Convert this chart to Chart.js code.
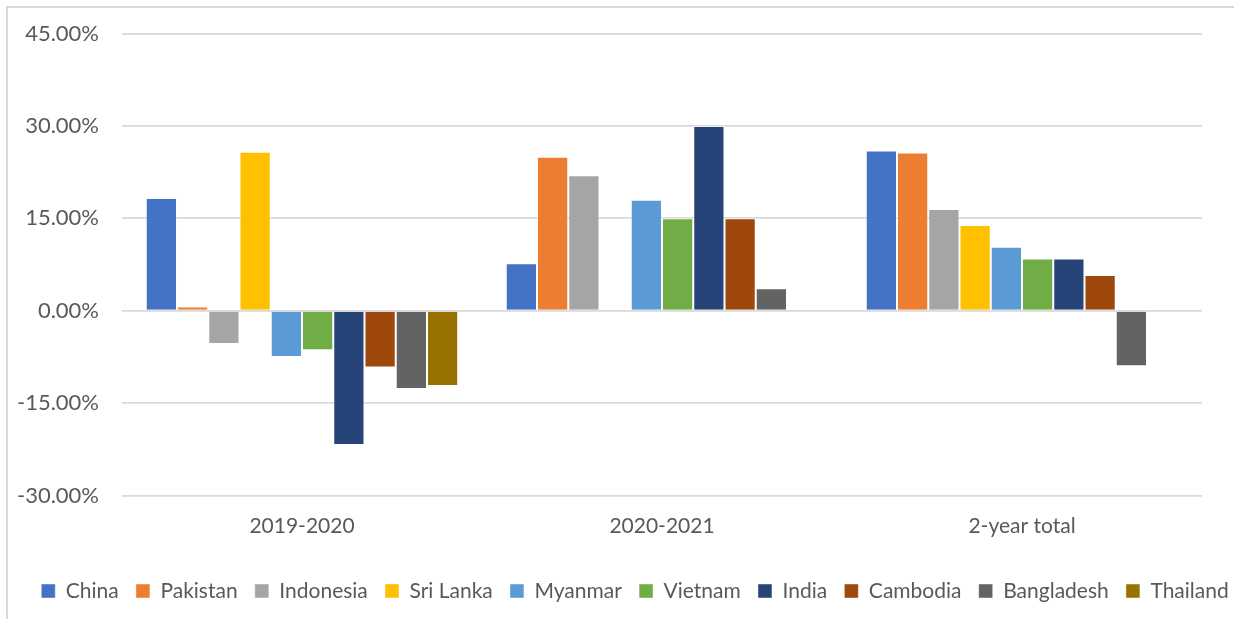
<!DOCTYPE html>
<html>
<head>
<meta charset="utf-8">
<script src="https://cdn.jsdelivr.net/npm/chart.js@4"></script>
<style>
    html, body { margin: 0; padding: 0; overflow: hidden; background: #fff; }
    #frame
    {
        position: absolute;
        left: 6px;
        top: 6px;
        width: 1258px;
        height: 613px;
        border-left: 2px solid #d9d9d9;
        border-top: 2px solid #d9d9d9;
        box-sizing: border-box;
    }
    #chart-wrap { position: absolute; left: 6px; top: 6px; width: 1258px; height: 613px; }
</style>
</head>
<body>
<div id="frame"></div>
<div id="chart-wrap"><canvas id="growth-chart"></canvas></div>
<script>
const periods = ["2019-2020", "2020-2021", "2-year total"];

const countries = ["China", "Pakistan", "Indonesia", "Sri Lanka", "Myanmar",
                   "Vietnam", "India", "Cambodia", "Bangladesh", "Thailand"];

// growth in %, one entry per period
const china      = [18.3, 7.7, 26.0];
const pakistan   = [0.7, 25.0, 25.7];
const indonesia  = [-5.4, 22.0, 16.5];
const sriLanka   = [25.8, null, 13.9];
const myanmar    = [-7.5, 18.0, 10.4];
const vietnam    = [-6.4, 15.0, 8.5];
const india      = [-21.8, 30.0, 8.5];
const cambodia   = [-9.2, 15.0, 5.8];
const bangladesh = [-12.7, 3.65, -9.0];
const thailand   = [-12.2, null, null];

const seriesValues = [china, pakistan, indonesia, sriLanka, myanmar,
                      vietnam, india, cambodia, bangladesh, thailand];

const colors = ["#4472C4", "#ED7D31", "#A5A5A5", "#FFC000", "#5B9BD5",
                "#70AD47", "#264478", "#9E480E", "#636363", "#997300"];

const yTicks = [-30, -15, 0, 15, 30, 45];

const textColor = "#595959";
const fontFamily = "Lato, 'Noto Sans', sans-serif";

const datasets = countries.map((name, idx) => {
    return {
        label: name,
        data: seriesValues[idx],
        backgroundColor: colors[idx],
        borderColor: 'rgba(255, 255, 255, 0.45)',
        borderWidth: 1,
        categoryPercentage: 0.868,
        barPercentage: 1.0
    };
});

const ctx = document.getElementById('growth-chart').getContext('2d');

const growthChart = new Chart(ctx, {
    type: 'bar',
    data: {
        labels: periods,
        datasets: datasets
    },
    options: {
        responsive: true,
        maintainAspectRatio: false,
        animation: false,
        layout: {
            padding: { left: 0, right: 0, top: 27.5, bottom: 7.5 }
        },
        plugins: {
            tooltip: { enabled: false },
            legend: {
                position: 'bottom',
                labels: {
                    boxWidth: 14,
                    boxHeight: 14,
                    padding: 17.2,
                    color: textColor,
                    font: { family: fontFamily, size: 21 }
                }
            }
        },
        scales: {
            x: {
                grid: { display: false, drawTicks: false },
                border: { display: false },
                ticks: {
                    color: textColor,
                    padding: 17.8,
                    font: { family: fontFamily, size: 21 }
                },
                afterFit: function(scale) {
                    scale.height = 67.7;
                }
            },
            y: {
                min: yTicks[0],
                max: yTicks[yTicks.length - 1],
                afterBuildTicks: function(scale) {
                    scale.ticks = yTicks.map(v => ({ value: v }));
                },
                grid: {
                    color: '#d9d9d9',
                    lineWidth: 1.8,
                    drawTicks: false
                },
                border: { display: false },
                ticks: {
                    color: textColor,
                    padding: 23,
                    font: { family: fontFamily, size: 22 },
                    callback: function(value) {
                        return value.toFixed(2) + '%';
                    }
                },
                afterFit: function(scale) {
                    scale.width = 116;
                    // tick padding would otherwise push the plot top down
                    scale.paddingTop = 0;
                    scale.paddingBottom = 0;
                }
            },
            // empty right axis, only keeps the plot clear of the right edge
            yRight: {
                position: 'right',
                grid: { display: false, drawTicks: false },
                border: { display: false },
                ticks: { display: false },
                afterFit: function(scale) {
                    scale.width = 62;
                    scale.paddingTop = 0;
                    scale.paddingBottom = 0;
                }
            }
        }
    }
});
</script>
</body>
</html>
